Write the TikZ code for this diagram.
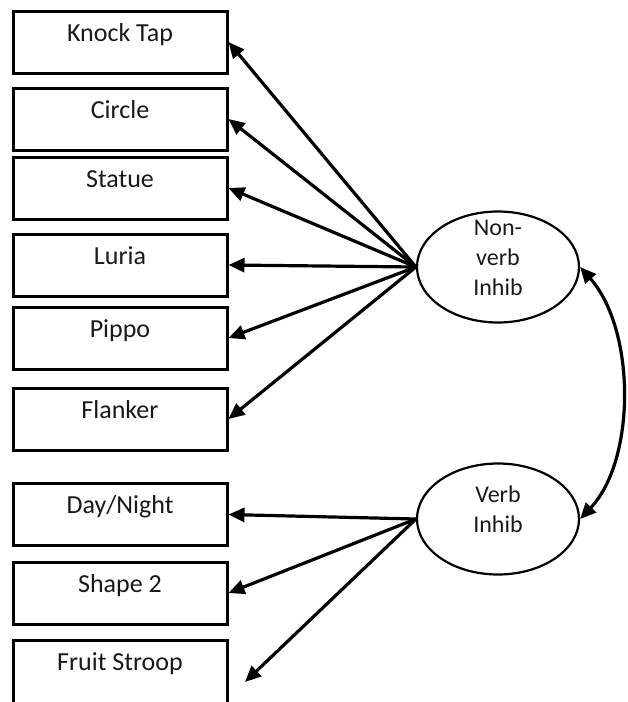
\documentclass[tikz,border=0pt]{standalone}
\usepackage{fontspec}
\setmainfont{Carlito}
\usetikzlibrary{shapes.geometric,arrows.meta}
\begin{document}
\begin{tikzpicture}[x=1pt,y=-1pt,
  task/.style={draw=black, line width=3pt, rectangle, minimum width=214pt,
    inner xsep=0pt, inner ysep=3pt, text height=27pt, text depth=29pt,
    font=\fontsize{26}{30}\selectfont, text=black!90},
  factor/.style={draw=black, line width=2.2pt, ellipse, minimum width=162pt,
    minimum height=111pt, inner sep=0pt},
  ftext/.style={align=center, font=\fontsize{24}{30}\selectfont, text=black!90},
  load/.style={line width=3.2pt, -{Triangle[length=16pt,width=14pt]}},
  corr/.style={line width=3.2pt, {Triangle[length=16pt,width=14pt]}-{Triangle[length=16pt,width=14pt]}}]
\useasboundingbox (0,0) rectangle (627,702);
\fill[white] (0,0) rectangle (627,702);

% observed tasks
\node[task] (kt) at (120,42)  {Knock Tap};
\node[task] (ci) at (120,119) {Circle};
\node[task] (st) at (120,188) {Statue};
\node[task] (lu) at (120,265) {Luria};
\node[task] (pi) at (120,338) {Pippo};
\node[task] (fl) at (120,419) {Flanker};
\node[task] (dn) at (120,514.5) {Day/Night};
\node[task] (sh) at (120,593) {Shape 2};
\node[task, text depth=47pt] (fs) at (120,680) {Fruit Stroop};

% latent factors
\node[factor, label={[ftext, yshift=9pt]center:Non-\\verb\\Inhib}] (nv) at (498,267) {};
\node[factor, label={[ftext, yshift=10pt]center:Verb\\Inhib}] (vb) at (498,519) {};

% loadings
\draw[load] (nv.west) -- (kt.east);
\draw[load] (nv.west) -- (ci.east);
\draw[load] (nv.west) -- (st.east);
\draw[load] (nv.west) -- (lu.east);
\draw[load] (nv.west) -- (pi.east);
\draw[load] (nv.west) -- (fl.east);

\coordinate (fsend) at (245,682);
\draw[load] (vb.west) -- (dn.east);
\draw[load] (vb.west) -- (sh.east);
\draw[load] (vb.west) -- (fsend);

% factor covariance
\draw[corr] (nv.east) .. controls (636,330) and (636,460) .. (vb.east);
\end{tikzpicture}
\end{document}
